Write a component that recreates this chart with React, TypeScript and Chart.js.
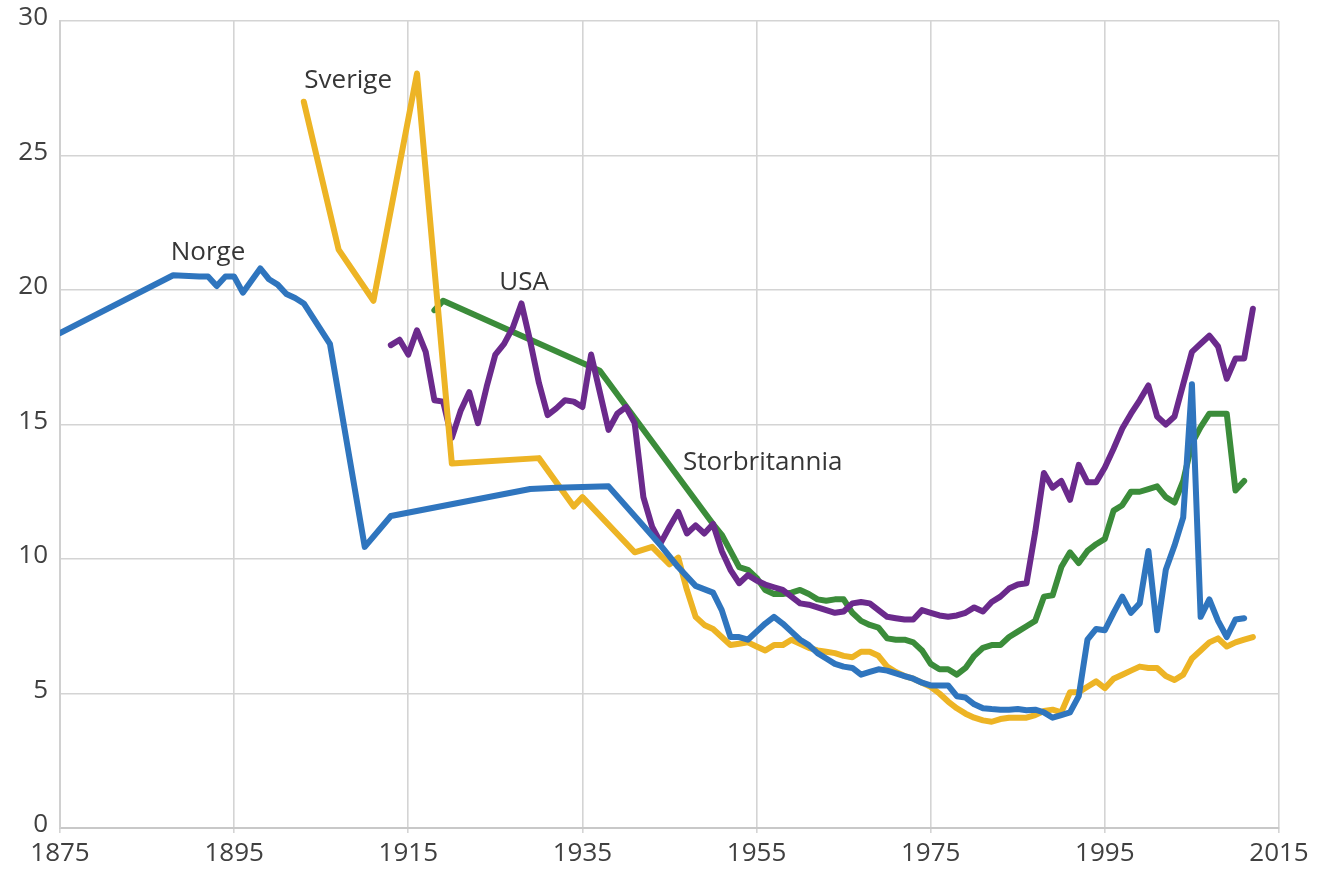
import React, { useEffect, useRef } from "react";
import { Chart, registerables } from "chart.js";

Chart.register(...registerables);

const norgeYears = [1875, 1888, 1891, 1892, 1893, 1894, 1895, 1896, 1898, 1899, 1900, 1901, 1902, 1903, 1906, 1910, 1913, 1929, 1932, 1938, 1944, 1946, 1948, 1950, 1951, 1952, 1953, 1954, 1955, 1956, 1957, 1958, 1959, 1960, 1961, 1962, 1963, 1964, 1965, 1966, 1967, 1968, 1969, 1970, 1971, 1972, 1973, 1974, 1975, 1976, 1977, 1978, 1979, 1980, 1981, 1982, 1983, 1984, 1985, 1986, 1987, 1988, 1989, 1990, 1991, 1992, 1993, 1994, 1995, 1996, 1997, 1998, 1999, 2000, 2001, 2002, 2003, 2004, 2005, 2006, 2007, 2008, 2009, 2010, 2011];
const norgeValues = [18.4, 20.55, 20.5, 20.5, 20.15, 20.5, 20.5, 19.9, 20.8, 20.4, 20.2, 19.85, 19.7, 19.5, 18.0, 10.45, 11.6, 12.6, 12.65, 12.7, 10.5, 9.7, 9.0, 8.75, 8.1, 7.1, 7.1, 7.0, 7.3, 7.6, 7.85, 7.6, 7.3, 7.0, 6.8, 6.5, 6.3, 6.1, 6.0, 5.95, 5.7, 5.8, 5.9, 5.85, 5.75, 5.65, 5.55, 5.4, 5.3, 5.3, 5.3, 4.9, 4.85, 4.6, 4.45, 4.42, 4.4, 4.4, 4.42, 4.38, 4.4, 4.3, 4.1, 4.2, 4.3, 4.9, 7.0, 7.4, 7.35, 8.0, 8.6, 8.0, 8.35, 10.3, 7.35, 9.6, 10.5, 11.55, 16.5, 7.85, 8.5, 7.7, 7.1, 7.75, 7.8];

const sverigeYears = [1903, 1907, 1911, 1916, 1920, 1930, 1934, 1935, 1941, 1943, 1945, 1946, 1947, 1948, 1949, 1950, 1951, 1952, 1953, 1954, 1955, 1956, 1957, 1958, 1959, 1960, 1961, 1962, 1963, 1964, 1965, 1966, 1967, 1968, 1969, 1970, 1971, 1972, 1973, 1974, 1975, 1976, 1977, 1978, 1979, 1980, 1981, 1982, 1983, 1984, 1985, 1986, 1987, 1988, 1989, 1990, 1991, 1992, 1993, 1994, 1995, 1996, 1997, 1998, 1999, 2000, 2001, 2002, 2003, 2004, 2005, 2006, 2007, 2008, 2009, 2010, 2011, 2012];
const sverigeValues = [27.0, 21.5, 19.6, 28.05, 13.55, 13.75, 11.95, 12.3, 10.25, 10.45, 9.8, 10.05, 8.85, 7.85, 7.55, 7.4, 7.1, 6.8, 6.85, 6.9, 6.75, 6.6, 6.8, 6.8, 7.0, 6.85, 6.7, 6.6, 6.55, 6.5, 6.4, 6.35, 6.55, 6.55, 6.4, 6.0, 5.8, 5.65, 5.55, 5.4, 5.25, 5.0, 4.7, 4.45, 4.25, 4.1, 4.0, 3.95, 4.05, 4.1, 4.1, 4.1, 4.2, 4.35, 4.4, 4.3, 5.05, 5.05, 5.25, 5.45, 5.2, 5.55, 5.7, 5.85, 6.0, 5.95, 5.95, 5.65, 5.5, 5.7, 6.3, 6.6, 6.9, 7.05, 6.75, 6.9, 7.0, 7.1];

const usaYears = [1913, 1914, 1915, 1916, 1917, 1918, 1919, 1920, 1921, 1922, 1923, 1924, 1925, 1926, 1927, 1928, 1929, 1930, 1931, 1932, 1933, 1934, 1935, 1936, 1937, 1938, 1939, 1940, 1941, 1942, 1943, 1944, 1945, 1946, 1947, 1948, 1949, 1950, 1951, 1952, 1953, 1954, 1955, 1956, 1957, 1958, 1959, 1960, 1961, 1962, 1963, 1964, 1965, 1966, 1967, 1968, 1969, 1970, 1971, 1972, 1973, 1974, 1975, 1976, 1977, 1978, 1979, 1980, 1981, 1982, 1983, 1984, 1985, 1986, 1987, 1988, 1989, 1990, 1991, 1992, 1993, 1994, 1995, 1996, 1997, 1998, 1999, 2000, 2001, 2002, 2003, 2004, 2005, 2006, 2007, 2008, 2009, 2010, 2011, 2012];
const usaValues = [17.95, 18.15, 17.6, 18.5, 17.7, 15.9, 15.85, 14.5, 15.5, 16.2, 15.05, 16.4, 17.6, 18.0, 18.6, 19.5, 18.1, 16.55, 15.35, 15.6, 15.9, 15.85, 15.65, 17.6, 16.2, 14.8, 15.4, 15.65, 15.05, 12.3, 11.2, 10.6, 11.2, 11.75, 10.95, 11.25, 10.95, 11.3, 10.3, 9.6, 9.1, 9.4, 9.2, 9.05, 8.95, 8.85, 8.6, 8.35, 8.3, 8.2, 8.1, 8.0, 8.05, 8.35, 8.4, 8.35, 8.1, 7.85, 7.8, 7.75, 7.75, 8.1, 8.0, 7.9, 7.85, 7.9, 8.0, 8.2, 8.05, 8.4, 8.6, 8.9, 9.05, 9.1, 11.0, 13.2, 12.65, 12.9, 12.2, 13.5, 12.85, 12.85, 13.4, 14.1, 14.85, 15.4, 15.9, 16.45, 15.3, 15.0, 15.3, 16.5, 17.7, 18.0, 18.3, 17.9, 16.7, 17.45, 17.45, 19.3];

const ukYears = [1918, 1919, 1937, 1950, 1951, 1952, 1953, 1954, 1955, 1956, 1957, 1958, 1959, 1960, 1961, 1962, 1963, 1964, 1965, 1966, 1967, 1968, 1969, 1970, 1971, 1972, 1973, 1974, 1975, 1976, 1977, 1978, 1979, 1980, 1981, 1982, 1983, 1984, 1985, 1986, 1987, 1988, 1989, 1990, 1991, 1992, 1993, 1994, 1995, 1996, 1997, 1998, 1999, 2000, 2001, 2002, 2003, 2004, 2005, 2006, 2007, 2008, 2009, 2010, 2011];
const ukValues = [19.25, 19.6, 17.0, 11.3, 10.9, 10.3, 9.7, 9.6, 9.3, 8.85, 8.7, 8.7, 8.75, 8.85, 8.7, 8.5, 8.45, 8.5, 8.5, 8.0, 7.7, 7.55, 7.45, 7.05, 7.0, 7.0, 6.9, 6.6, 6.1, 5.9, 5.9, 5.7, 5.95, 6.4, 6.7, 6.8, 6.8, 7.1, 7.3, 7.5, 7.7, 8.6, 8.65, 9.7, 10.25, 9.85, 10.3, 10.55, 10.75, 11.8, 12.0, 12.5, 12.5, 12.6, 12.7, 12.3, 12.1, 12.9, 14.3, 14.9, 15.4, 15.4, 15.4, 12.55, 12.9];

const seriesNames = ["Norge", "Sverige", "USA", "Storbritannia"];
const seriesColors = ["#2F75BE", "#EDB425", "#6B2A8C", "#3B8C3A"];

const labelTexts = ["Norge", "Sverige", "USA", "Storbritannia"];
const labelYears = [1892, 1908.1, 1928.3, 1955.7];
const labelValues = [21.4, 27.77, 20.27, 13.6];

const xTicks = [1875, 1895, 1915, 1935, 1955, 1975, 1995, 2015];

const FONT = "'Open Sans', 'Noto Sans', sans-serif";

function toPoints(xs: number[], ys: number[]) {
  return xs.map((x, i) => ({ x, y: ys[i] }));
}

const labelPlugin = {
  id: "seriesLabels",
  afterDatasetsDraw(chart: any) {
    const { ctx, scales } = chart;
    ctx.save();
    ctx.font = `26px ${FONT}`;
    ctx.fillStyle = "#363636";
    ctx.textAlign = "center";
    ctx.textBaseline = "middle";
    labelTexts.forEach((t, i) => {
      const px = scales.x.getPixelForValue(labelYears[i]);
      const py = scales.y.getPixelForValue(labelValues[i]);
      ctx.fillText(t, px, py);
    });
    ctx.restore();
  },
};

export default function App() {
  const ref = useRef<HTMLCanvasElement | null>(null);

  useEffect(() => {
    document.body.style.margin = "0";
    const canvas = ref.current;
    if (!canvas) return;
    const all = [
      toPoints(norgeYears, norgeValues),
      toPoints(sverigeYears, sverigeValues),
      toPoints(usaYears, usaValues),
      toPoints(ukYears, ukValues),
    ];
    const chart = new Chart(canvas, {
      type: "line",
      data: {
        datasets: all.map((d, i) => ({
          label: seriesNames[i],
          data: d,
          borderColor: seriesColors[i],
          backgroundColor: seriesColors[i],
          borderWidth: 6,
          pointRadius: 0,
          tension: 0,
          borderJoinStyle: "round" as const,
          borderCapStyle: "round" as const,
        })),
      },
      options: {
        animation: false,
        responsive: false,
        maintainAspectRatio: false,
        layout: { padding: { top: 21, right: 40, left: 0, bottom: 0 } },
        plugins: {
          legend: { display: false },
          tooltip: { enabled: false },
        },
        scales: {
          x: {
            type: "linear",
            min: 1875,
            max: 2015,
            afterBuildTicks(scale: any) {
              scale.ticks = xTicks.map((v) => ({ value: v }));
            },
            afterFit(scale: any) {
              scale.height = 44;
              scale.paddingLeft = 0;
              scale.paddingRight = 0;
            },
            grid: {
              color: "#d4d4d4",
              lineWidth: 1.6,
              tickLength: 5,
              drawTicks: true,
            },
            border: { color: "#c8c8c8", width: 2 },
            ticks: {
              color: "#404040",
              font: { family: FONT, size: 26 },
              padding: 5,
              maxRotation: 0,
              autoSkip: false,
              callback: (v: any) => String(v),
            },
          },
          y: {
            min: 0,
            max: 30,
            afterFit(scale: any) {
              scale.width = 60;
              scale.paddingTop = 0;
              scale.paddingBottom = 0;
            },
            grid: {
              color: "#d4d4d4",
              lineWidth: 1.6,
              drawTicks: false,
            },
            border: { color: "#d0d0d0", width: 2 },
            ticks: {
              stepSize: 5,
              color: "#404040",
              font: { family: FONT, size: 26 },
              padding: 12,
              labelOffset: -3,
            },
          },
        },
      },
      plugins: [labelPlugin],
    });
    return () => chart.destroy();
  }, []);

  return (
    <div style={{ width: 1319, height: 872 }}>
      <canvas ref={ref} width={1319} height={872} style={{ display: "block" }} />
    </div>
  );
}
